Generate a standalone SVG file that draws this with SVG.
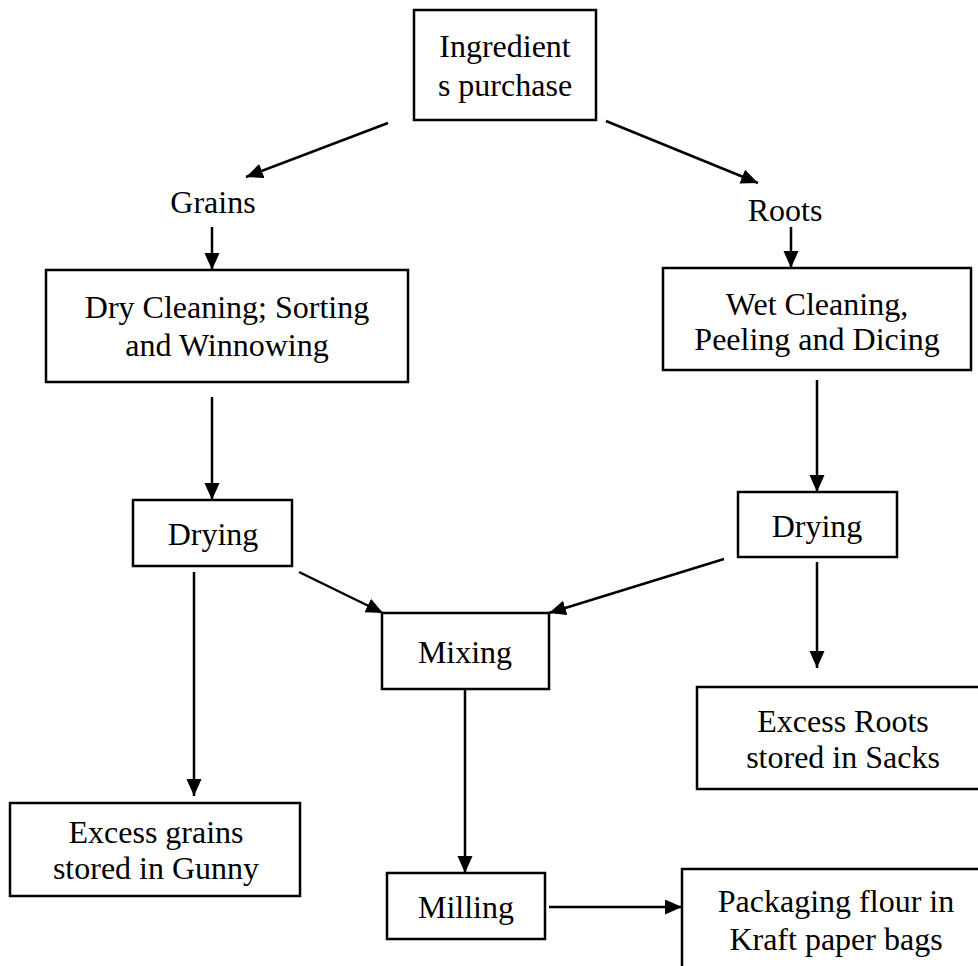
<svg xmlns="http://www.w3.org/2000/svg" width="978" height="966" viewBox="0 0 978 966">
<defs>
<style>
.box{fill:#fff;stroke:#000;stroke-width:2.5}
.t{font-family:"Liberation Serif","Times New Roman",serif;font-size:32px;fill:#000;text-anchor:middle}
.c{stroke:#000;stroke-width:2.5;fill:none;marker-end:url(#ah)}
</style>
<marker id="ah" markerUnits="userSpaceOnUse" markerWidth="18" markerHeight="16" refX="17" refY="7.5" orient="auto">
<path d="M0,0 L17,7.5 L0,15 Z" fill="#000"/>
</marker>
</defs>
<rect width="978" height="966" fill="#fff"/>
<g id="connectors">
<line class="c" x1="388" y1="123" x2="246" y2="177"/>
<line class="c" x1="606" y1="121" x2="758" y2="183"/>
<line class="c" x1="212" y1="227" x2="212" y2="270"/>
<line class="c" x1="791" y1="227" x2="791" y2="268"/>
<line class="c" x1="212" y1="397" x2="212" y2="500"/>
<line class="c" x1="817" y1="380" x2="817" y2="492"/>
<line class="c" x1="194" y1="572" x2="194" y2="796"/>
<line class="c" x1="299" y1="572" x2="383" y2="613"/>
<line class="c" x1="724" y1="559" x2="549" y2="613"/>
<line class="c" x1="817" y1="562" x2="817" y2="668"/>
<line class="c" x1="465" y1="689" x2="465" y2="873"/>
<line class="c" x1="549" y1="907" x2="682" y2="907"/>
</g>
<g id="ingredients">
<rect class="box" x="414" y="10" width="182" height="110"/>
<text class="t" x="505" y="57">Ingredient</text>
<text class="t" x="505" y="96">s purchase</text>
</g>
<g id="grains">
<text class="t" x="213" y="213">Grains</text>
</g>
<g id="roots">
<text class="t" x="785" y="221">Roots</text>
</g>
<g id="dry-cleaning">
<rect class="box" x="46" y="270" width="362" height="112"/>
<text class="t" x="227" y="318">Dry Cleaning; Sorting</text>
<text class="t" x="227" y="356">and Winnowing</text>
</g>
<g id="wet-cleaning">
<rect class="box" x="663" y="268" width="308" height="102"/>
<text class="t" x="817" y="315">Wet Cleaning,</text>
<text class="t" x="817" y="350">Peeling and Dicing</text>
</g>
<g id="drying-left">
<rect class="box" x="133" y="500" width="159" height="66"/>
<text class="t" x="213" y="545">Drying</text>
</g>
<g id="drying-right">
<rect class="box" x="738" y="492" width="159" height="65"/>
<text class="t" x="817" y="537">Drying</text>
</g>
<g id="mixing">
<rect class="box" x="382" y="613" width="167" height="76"/>
<text class="t" x="465" y="663">Mixing</text>
</g>
<g id="excess-roots">
<rect class="box" x="697" y="687" width="290" height="102"/>
<text class="t" x="843" y="732">Excess Roots</text>
<text class="t" x="843" y="768">stored in Sacks</text>
</g>
<g id="excess-grains">
<rect class="box" x="10" y="803" width="290" height="93"/>
<text class="t" x="156" y="843">Excess grains</text>
<text class="t" x="156" y="879">stored in Gunny</text>
</g>
<g id="milling">
<rect class="box" x="387" y="873" width="158" height="66"/>
<text class="t" x="466" y="918">Milling</text>
</g>
<g id="packaging">
<rect class="box" x="682" y="869" width="310" height="110"/>
<text class="t" x="836" y="912">Packaging flour in</text>
<text class="t" x="836" y="950">Kraft paper bags</text>
</g>
</svg>
